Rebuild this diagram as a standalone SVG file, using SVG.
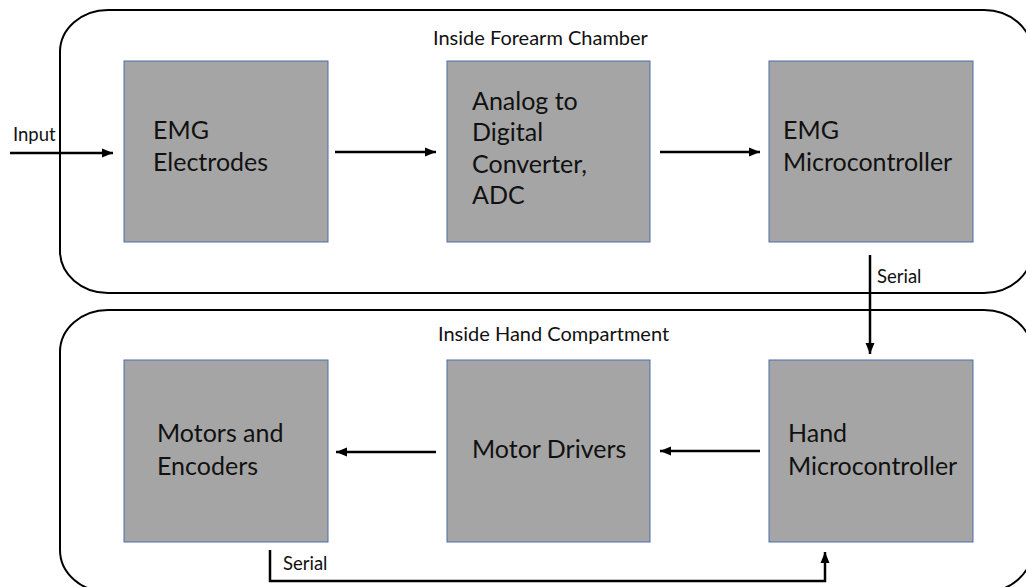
<svg xmlns="http://www.w3.org/2000/svg" width="1026" height="587" viewBox="0 0 1026 587">
<style>
.cont{fill:none;stroke:#000;stroke-width:2}
.box{fill:#a5a5a5;stroke:#4a6ea8;stroke-width:1}
.lbl{font-family:Lato,"Open Sans",sans-serif;font-size:25px;fill:#111}
.sm{font-family:Lato,"Open Sans",sans-serif;font-size:18.5px;fill:#111}
.ttl{font-family:Lato,"Open Sans",sans-serif;font-size:20px;fill:#111}
.wire{fill:none;stroke:#000;stroke-width:2.5}
</style>
<defs>
<marker id="ah" markerUnits="userSpaceOnUse" markerWidth="12" markerHeight="12" viewBox="0 0 12 12" refX="11" refY="6" orient="auto">
<path d="M0,1.5 L11,6 L0,10.5 Z" fill="#000"/>
</marker>
</defs>
<rect width="1026" height="587" fill="#fff"/>
<g id="forearm-chamber">
<rect class="cont" x="60" y="10" width="972" height="283" rx="48" ry="42"/>
<text class="ttl" x="433" y="45">Inside Forearm Chamber</text>
</g>
<g id="hand-compartment">
<rect class="cont" x="60" y="310" width="972" height="282" rx="48" ry="42"/>
<text class="ttl" x="438" y="341">Inside Hand Compartment</text>
</g>
<g id="emg-electrodes">
<rect class="box" x="124" y="61" width="204" height="181"/>
<text class="lbl" x="153" y="139">EMG</text>
<text class="lbl" x="153" y="171">Electrodes</text>
</g>
<g id="adc">
<rect class="box" x="447" y="61" width="203" height="181"/>
<text class="lbl" x="472" y="110">Analog to</text>
<text class="lbl" x="472" y="141">Digital</text>
<text class="lbl" x="472" y="173">Converter,</text>
<text class="lbl" x="472" y="204">ADC</text>
</g>
<g id="emg-microcontroller">
<rect class="box" x="769" y="61" width="204" height="181"/>
<text class="lbl" x="783" y="139">EMG</text>
<text class="lbl" x="783" y="171">Microcontroller</text>
</g>
<g id="motors-encoders">
<rect class="box" x="124" y="360" width="204" height="182"/>
<text class="lbl" x="157" y="442">Motors and</text>
<text class="lbl" x="157" y="475">Encoders</text>
</g>
<g id="motor-drivers">
<rect class="box" x="447" y="360" width="203" height="182"/>
<text class="lbl" x="472" y="458">Motor Drivers</text>
</g>
<g id="hand-microcontroller">
<rect class="box" x="769" y="360" width="204" height="182"/>
<text class="lbl" x="788" y="442">Hand</text>
<text class="lbl" x="788" y="475">Microcontroller</text>
</g>
<g id="connectors">
<line class="wire" x1="10" y1="153" x2="113" y2="153" marker-end="url(#ah)"/>
<text class="sm" x="13" y="141">Input</text>
<line class="wire" x1="335" y1="152" x2="436" y2="152" marker-end="url(#ah)"/>
<line class="wire" x1="660" y1="152" x2="760" y2="152" marker-end="url(#ah)"/>
<line class="wire" x1="870" y1="255" x2="870" y2="354" marker-end="url(#ah)"/>
<text class="sm" x="877" y="283">Serial</text>
<line class="wire" x1="760" y1="451" x2="660" y2="451" marker-end="url(#ah)"/>
<line class="wire" x1="436" y1="452" x2="336" y2="452" marker-end="url(#ah)"/>
<polyline class="wire" points="270,550 270,581 825,581 825,552" marker-end="url(#ah)"/>
<text class="sm" x="283" y="570">Serial</text>
</g>
</svg>
